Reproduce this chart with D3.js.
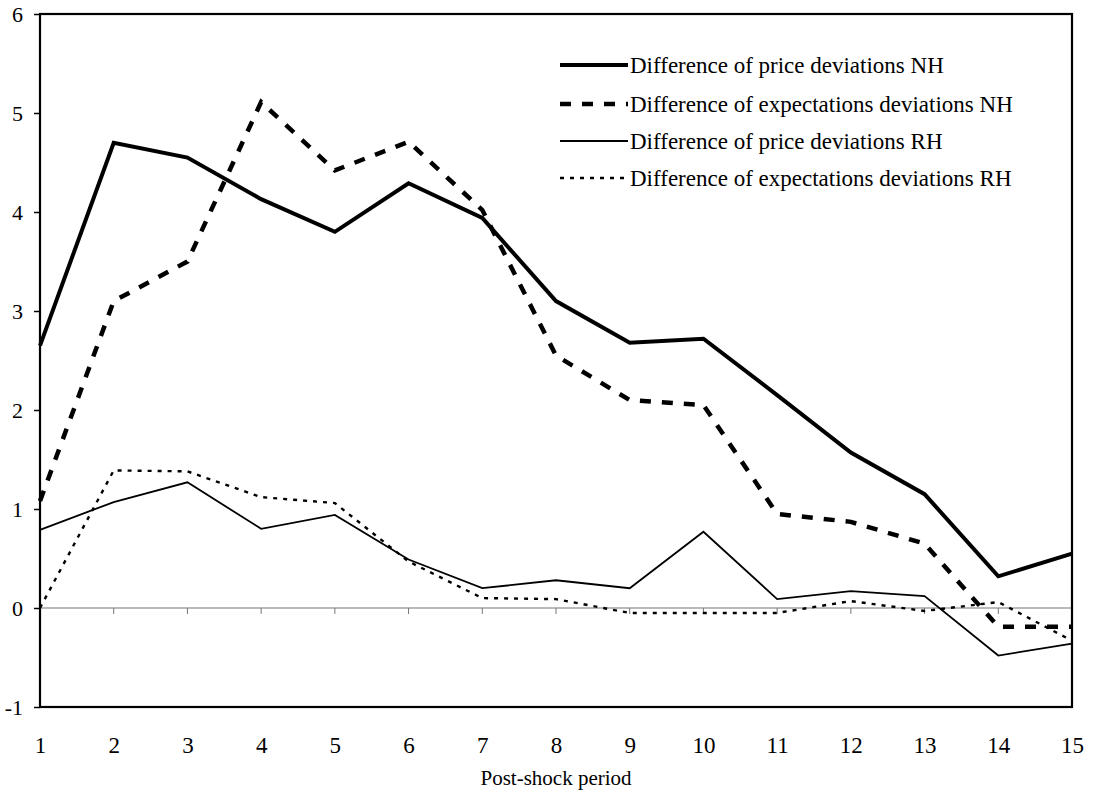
<!DOCTYPE html>
<html><head><meta charset="utf-8">
<script src="https://cdn.jsdelivr.net/npm/d3@7/dist/d3.min.js"></script>
<style>body{margin:0;background:#fff}svg{display:block}text{font-family:"Liberation Serif","Times New Roman",serif;fill:#000}</style>
</head><body>
<svg id="c" width="1095" height="794"></svg>
<script>
const periods = [1,2,3,4,5,6,7,8,9,10,11,12,13,14,15];
const priceNH = [2.65,4.70,4.55,4.13,3.80,4.29,3.94,3.10,2.68,2.72,2.15,1.57,1.15,0.32,0.55];
const expNH   = [1.08,3.10,3.50,5.11,4.42,4.71,4.02,2.55,2.10,2.05,0.95,0.87,0.65,-0.19,-0.19];
const priceRH = [0.79,1.07,1.27,0.80,0.94,0.49,0.20,0.28,0.20,0.77,0.09,0.17,0.12,-0.48,-0.36];
const expRH   = [0.00,1.39,1.38,1.12,1.06,0.47,0.10,0.09,-0.05,-0.05,-0.05,0.07,-0.03,0.06,-0.33];
const yTicks = [-1,0,1,2,3,4,5,6];
const seriesNames = ["Difference of price deviations NH","Difference of expectations deviations NH","Difference of price deviations RH","Difference of expectations deviations RH"];

const L=40,R=1072,T=14,B=707;
const svg=d3.select("#c");
const x=d3.scaleLinear().domain([1,15]).range([L,R]);
const y=d3.scaleLinear().domain([-1,6]).range([B,T]);

// zero line
svg.append("line").attr("x1",L).attr("x2",R).attr("y1",y(0)).attr("y2",y(0)).attr("stroke","#777").attr("stroke-width",1.2);
svg.append("g").selectAll("line").data(periods.slice(1,-1)).join("line")
  .attr("x1",d=>x(d)).attr("x2",d=>x(d)).attr("y1",y(0)).attr("y2",y(0)+6).attr("stroke","#777").attr("stroke-width",1);

// frame
svg.append("rect").attr("x",L).attr("y",T).attr("width",R-L).attr("height",B-T).attr("fill","none").attr("stroke","#000").attr("stroke-width",2.2);

// y axis
const ya=d3.axisLeft(y).tickValues(yTicks).tickSize(6).tickFormat(d=>String(d));
const yg=svg.append("g").attr("transform",`translate(${L},0)`).call(ya);
yg.select(".domain").remove();
yg.selectAll("line").attr("stroke","#000").attr("stroke-width",1.5);
yg.selectAll("text").style("font-size","22px").attr("x",-17).attr("dy","0.35em").attr("font-family","Liberation Serif");

// x axis labels
const xa=d3.axisBottom(x).tickValues(periods).tickSize(0).tickFormat(d=>String(d));
const xg=svg.append("g").attr("transform",`translate(0,${B})`).call(xa);
xg.select(".domain").remove();
xg.selectAll("text").style("font-size","23px").attr("y",38).attr("dy","0.35em").attr("font-family","Liberation Serif");

svg.append("text").attr("x",556).attr("y",785).attr("text-anchor","middle").style("font-size","21px").text("Post-shock period");

const line=d3.line().x((d,i)=>x(periods[i])).y(d=>y(d));
const styles=[
  {w:4,dash:null},
  {w:4.5,dash:"11,11"},
  {w:1.8,dash:null},
  {w:2.4,dash:"4,6"}
];
const data=[priceNH,expNH,priceRH,expRH];
data.forEach((s,i)=>{
  svg.append("path").datum(s).attr("d",line).attr("fill","none").attr("stroke","#000")
    .attr("stroke-width",styles[i].w).attr("stroke-dasharray",styles[i].dash).attr("stroke-linejoin","miter");
});

// legend
const ly=[65,104,141,178];
seriesNames.forEach((n,i)=>{
  svg.append("line").attr("x1",560).attr("x2",628).attr("y1",ly[i]).attr("y2",ly[i]).attr("stroke","#000")
    .attr("stroke-width",styles[i].w).attr("stroke-dasharray",styles[i].dash);
  svg.append("text").attr("x",630).attr("y",ly[i]).attr("dy","0.35em").style("font-size","23px").text(n);
});
</script>
</body></html>
